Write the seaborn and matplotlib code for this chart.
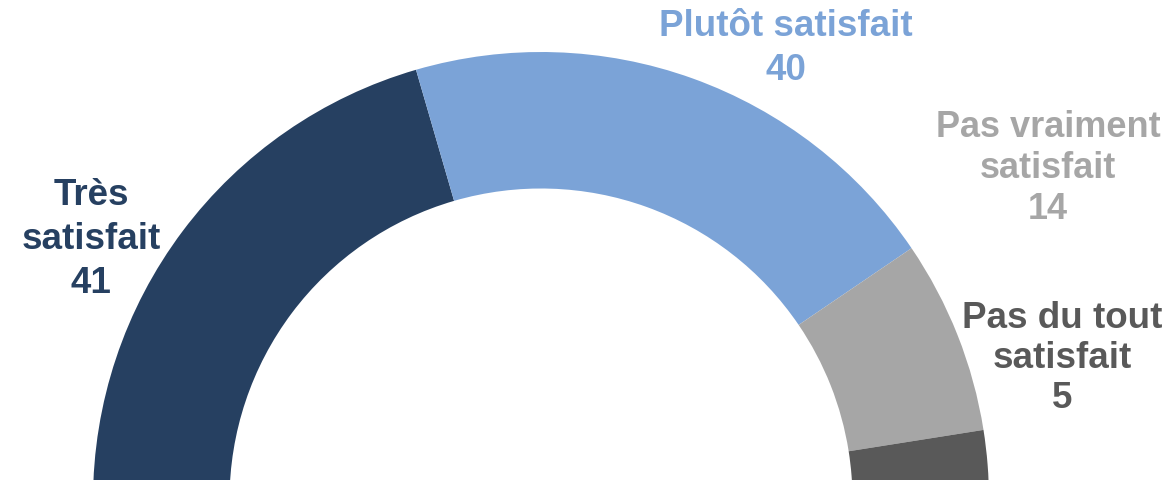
import matplotlib
matplotlib.use("Agg")
import matplotlib.pyplot as plt
import seaborn as sns

# Satisfaction shares (percent)
categories = ["Très satisfait", "Plutôt satisfait", "Pas vraiment satisfait", "Pas du tout satisfait"]
values = [41, 40, 14, 5]
label_lines = [["Très", "satisfait", "41"],
               ["Plutôt satisfait", "40"],
               ["Pas vraiment", "satisfait", "14"],
               ["Pas du tout", "satisfait", "5"]]
colors = ["#264061", "#7BA3D7", "#A6A6A6", "#595959"]

sns.set_theme(style="white")
plt.rcParams["font.family"] = ["Liberation Sans", "DejaVu Sans"]

W, H = 1171, 480
fig = plt.figure(figsize=(W / 100, H / 100), dpi=100)
ax = fig.add_axes([0, 0, 1, 1])

# Half donut: the hidden lower half carries the same total as the visible arc
total = sum(values)
wedges, _ = ax.pie(values + [total], colors=colors + ["none"],
                   startangle=180, counterclock=False,
                   radius=448, center=(541, -20),
                   wedgeprops=dict(width=136.5, linewidth=0))
ax.set_xlim(0, W)
ax.set_ylim(0, H)
ax.set_aspect("equal")
ax.axis("off")

# Label blocks: centre x, line baselines (pixels from top), font size
layout = [(91, [205, 249, 293], 26.5),
          (786, [36, 80], 26.5),
          (1048, [137, 178, 219], 26),
          (1062, [328, 368, 408], 26.5)]
for lines, (cx, bases, fs), col in zip(label_lines, layout, colors):
    for txt, by in zip(lines, bases):
        ax.text(cx, H - by, txt, ha="center", va="baseline",
                fontsize=fs, fontweight="bold", color=col)

fig.savefig("out.png", dpi=100)
